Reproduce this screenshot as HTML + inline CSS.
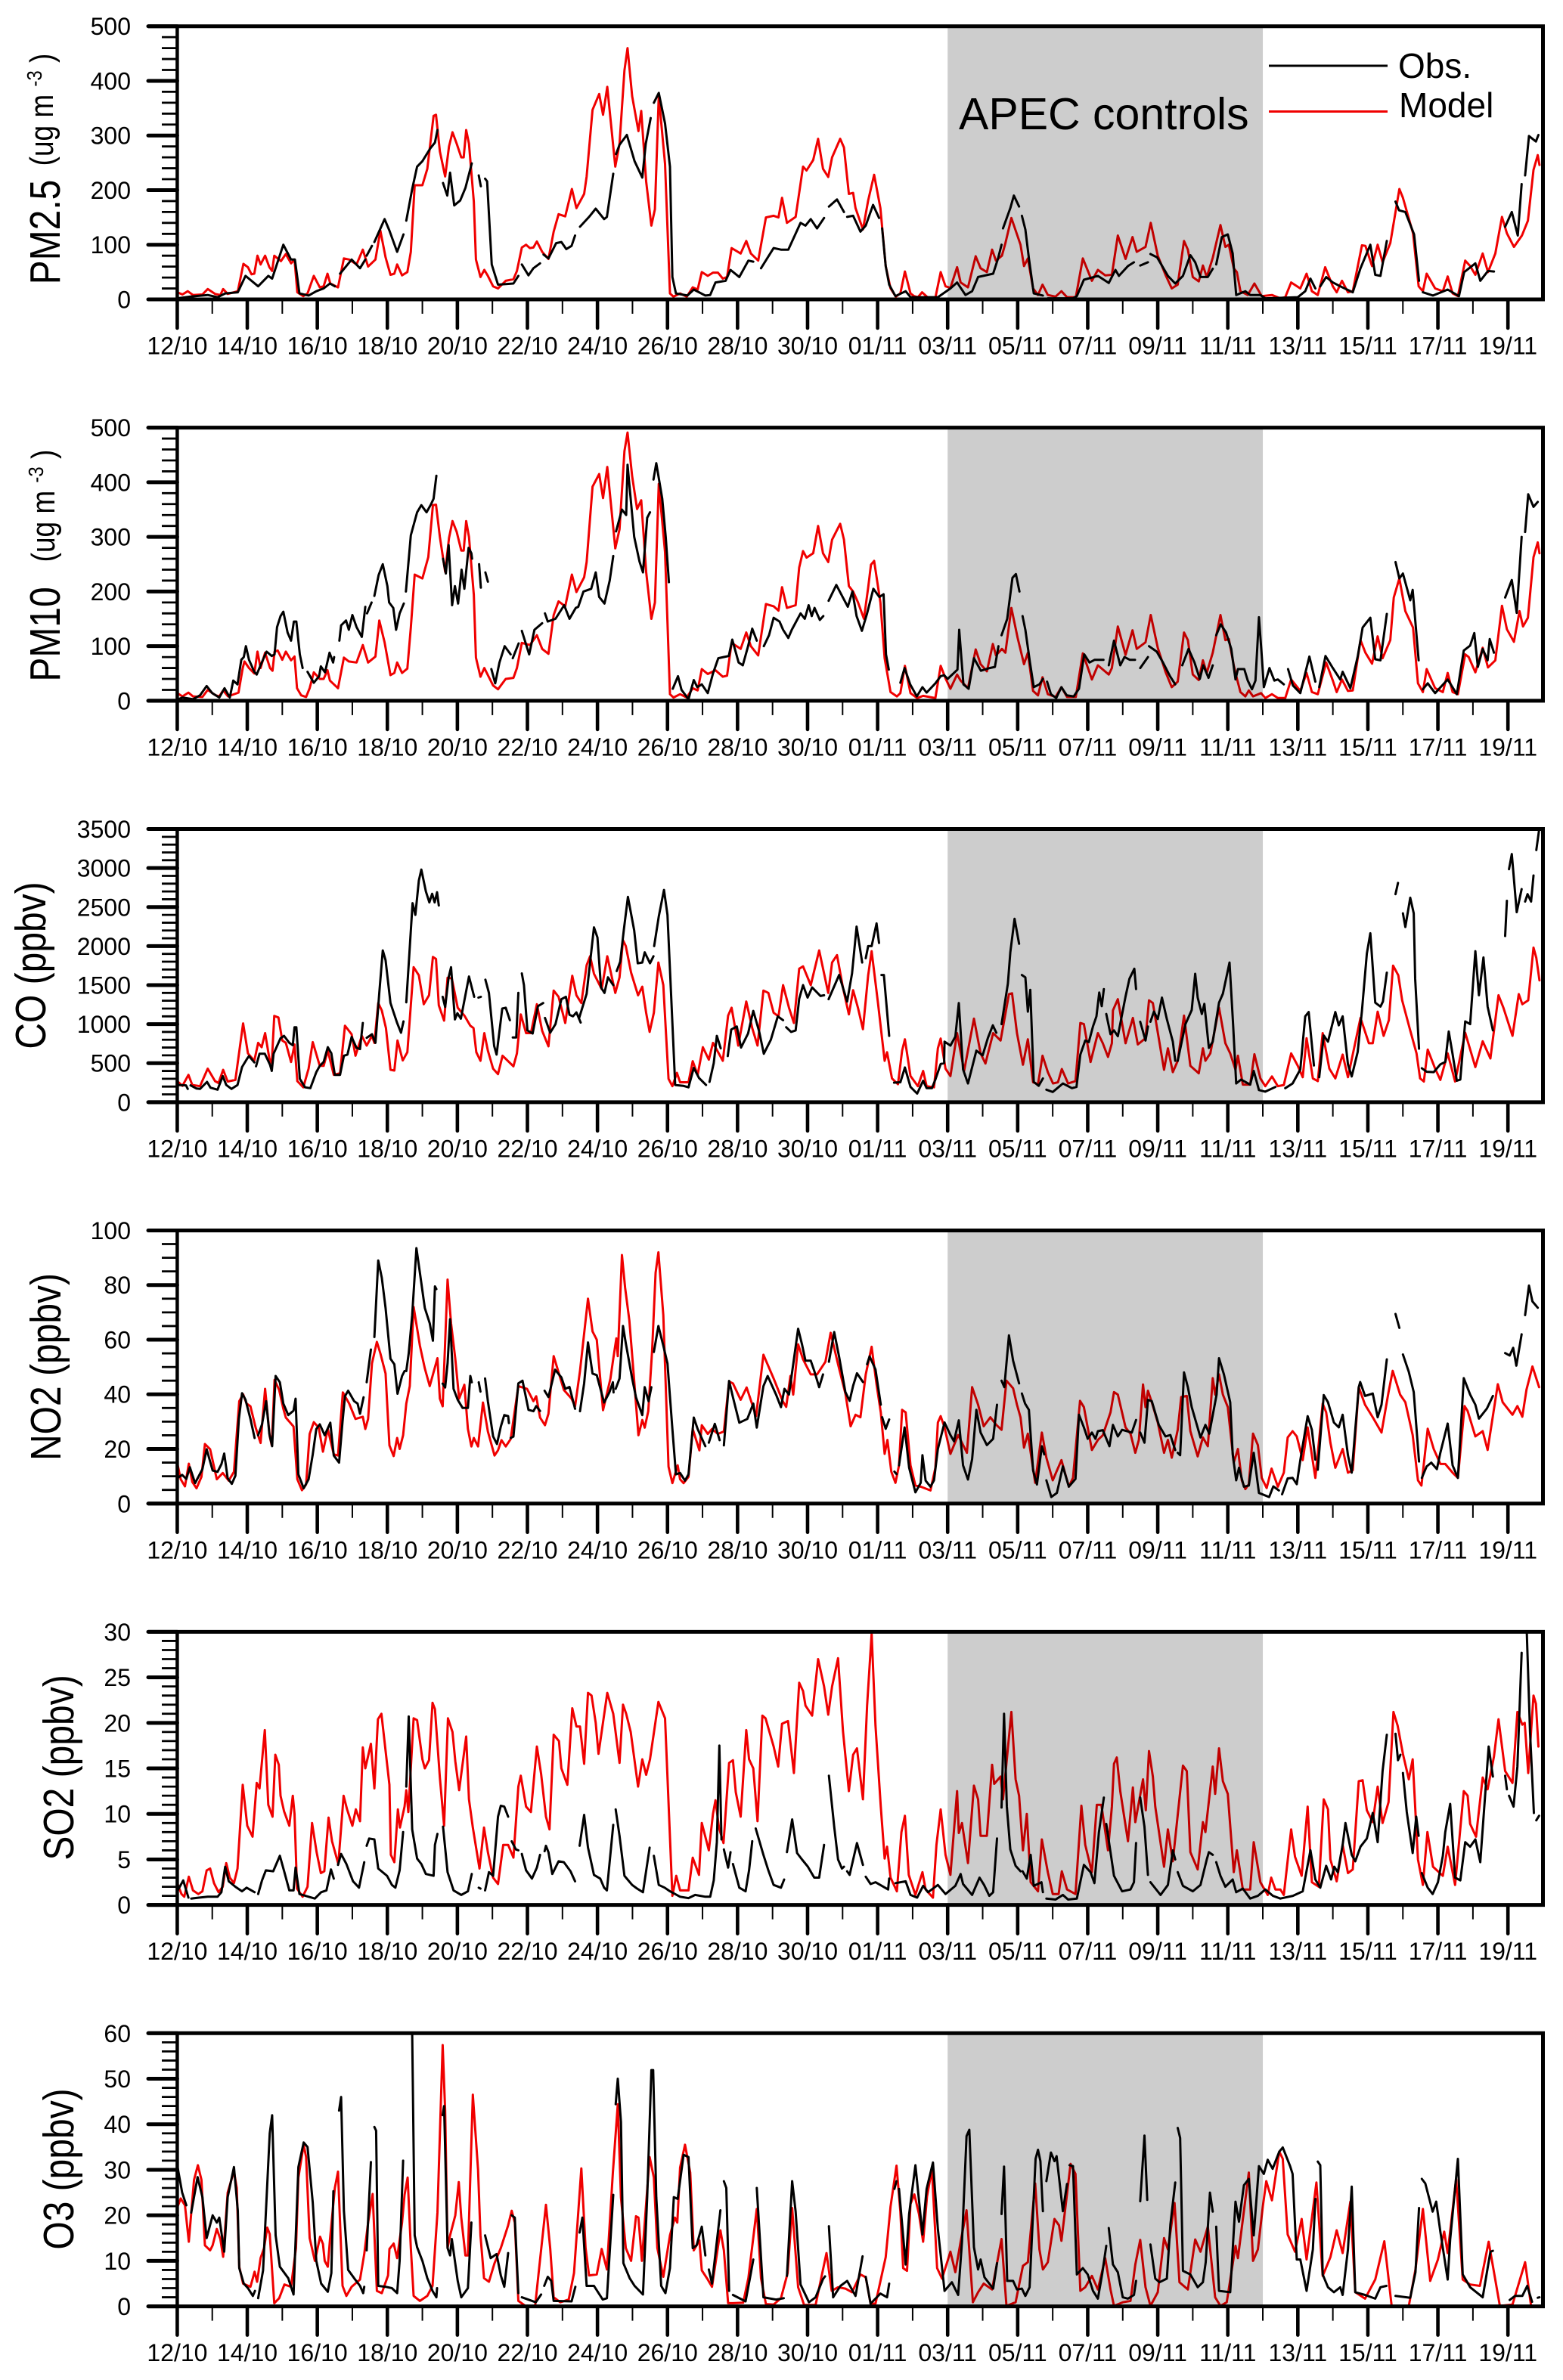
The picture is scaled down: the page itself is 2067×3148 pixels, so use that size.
<!DOCTYPE html>
<html lang="en">
<head>
<meta charset="utf-8">
<title>Air pollutant time series: observed vs modelled</title>
<style>
html,body{margin:0;padding:0;background:#fff;}
svg{display:block;}
text{font-family:"Liberation Sans",sans-serif;fill:#000;}
</style>
</head>
<body>
<svg id="chart" xmlns="http://www.w3.org/2000/svg" width="2067" height="3148" viewBox="0 0 2067 3148"></svg>
<script>
// Tick labels (one every 2 days, starting on day 0 = 12/10)
const dateLabels = ['12/10','14/10','16/10','18/10','20/10','22/10','24/10','26/10','28/10','30/10','01/11','03/11','05/11','07/11','09/11','11/11','13/11','15/11','17/11','19/11'];
const apecStartDay = 22;
const apecEndDay = 31;
const totalDays = 39;

// Series: [day since 12/10, value]; null marks a gap in the record
const pm25Model = [[0,13],[.15,9],[.3,15],[.45,8],[.72,9],[.87,19],[1.08,10],[1.23,8],[1.31,19],[1.44,10],[1.73,15],[1.89,65],[2.02,59],[2.12,46],[2.2,47],[2.29,80],[2.38,64],[2.51,80],[2.63,59],[2.71,52],[2.77,80],[2.96,70],[3.1,83],[3.25,66],[3.35,73],[3.43,13],[3.6,6],[3.72,11],[3.9,43],[4.07,22],[4.18,24],[4.29,47],[4.37,29],[4.59,22],[4.76,75],[4.91,73],[5.12,64],[5.3,91],[5.45,60],[5.66,73],[5.8,126],[5.95,77],[6.09,45],[6.2,47],[6.28,64],[6.42,44],[6.57,50],[6.67,87],[6.78,209],[7,209],[7.14,239],[7.32,336],[7.39,338],[7.5,271],[7.65,225],[7.76,280],[7.86,306],[7.98,285],[8.11,260],[8.18,260],[8.25,310],[8.33,285],[8.47,179],[8.53,73],[8.66,41],[8.77,54],[8.87,43],[9.02,24],[9.16,20],[9.38,34],[9.6,37],[9.7,52],[9.84,95],[9.96,100],[10.07,94],[10.17,95],[10.27,106],[10.42,87],[10.6,74],[10.75,124],[10.89,156],[11.08,152],[11.27,202],[11.4,167],[11.62,193],[11.69,225],[11.86,347],[12.05,376],[12.16,338],[12.28,389],[12.51,243],[12.63,285],[12.77,419],[12.86,460],[12.99,372],[13.17,308],[13.25,345],[13.39,216],[13.54,135],[13.64,165],[13.75,372],[13.93,248],[14.07,11],[14.17,5],[14.36,11],[14.55,5],[14.72,22],[14.86,18],[14.98,50],[15.15,43],[15.3,49],[15.44,49],[15.58,38],[15.7,41],[15.83,94],[16.09,84],[16.25,107],[16.38,84],[16.59,71],[16.81,150],[17.03,153],[17.17,150],[17.27,186],[17.41,140],[17.66,151],[17.87,243],[17.97,236],[18.16,255],[18.3,294],[18.44,239],[18.59,224],[18.7,260],[18.93,294],[19.04,278],[19.18,193],[19.3,195],[19.37,167],[19.58,128],[19.73,181],[19.9,228],[20.08,167],[20.23,61],[20.37,20],[20.52,5],[20.65,11],[20.78,51],[20.94,11],[21.04,6],[21.15,4],[21.27,13],[21.44,3],[21.65,3],[21.8,50],[21.94,24],[22.08,21],[22.27,59],[22.37,31],[22.58,22],[22.8,79],[22.94,57],[23.12,50],[23.27,91],[23.38,71],[23.55,80],[23.65,103],[23.82,149],[24.08,100],[24.18,61],[24.29,75],[24.44,20],[24.58,8],[24.71,27],[24.86,8],[25.08,5],[25.25,15],[25.41,4],[25.66,4],[25.86,75],[26.12,34],[26.29,54],[26.5,44],[26.69,45],[26.86,117],[27.08,74],[27.28,114],[27.4,87],[27.65,96],[27.8,140],[28,80],[28.22,45],[28.4,20],[28.57,27],[28.75,107],[28.86,91],[29,41],[29.17,33],[29.29,62],[29.4,41],[29.57,76],[29.79,136],[29.93,96],[30.03,100],[30.17,57],[30.26,50],[30.36,15],[30.57,8],[30.76,29],[30.97,6],[31.26,8],[31.5,2],[31.64,4],[31.81,31],[32.07,20],[32.25,47],[32.4,15],[32.57,8],[32.78,59],[33,24],[33.11,13],[33.26,34],[33.43,13],[33.57,15],[33.83,99],[33.93,98],[34.12,61],[34.28,100],[34.42,68],[34.64,103],[34.9,202],[35,186],[35.29,121],[35.45,24],[35.57,15],[35.68,47],[35.92,20],[36.14,15],[36.28,42],[36.42,11],[36.57,6],[36.78,71],[36.92,61],[37.07,45],[37.28,84],[37.43,50],[37.64,84],[37.83,151],[37.97,121],[38.17,96],[38.4,117],[38.57,144],[38.73,237],[38.85,264],[38.9,246]];
const pm25Obs = [[0,2],[.36,5],[.87,8],[1.15,4],[1.37,11],[1.73,13],[1.95,43],[2.31,24],[2.6,43],[2.71,38],[3.03,100],[3.25,73],[3.36,73],[3.49,11],[3.75,7],[3.97,15],[4.18,20],[4.36,29],[4.5,24],null,[4.65,47],[4.98,73],[5.22,57],[5.37,73],null,[5.41,80],[5.56,98],null,[5.63,105],[5.92,147],[6.06,126],[6.28,87],[6.46,119],null,[6.54,144],[6.71,202],[6.85,243],[7,253],[7.22,276],[7.36,287],[7.43,310],null,[7.59,213],[7.71,190],[7.79,232],[7.91,172],[8.08,181],[8.23,204],[8.41,249],null,[8.61,227],[8.67,207],null,[8.79,221],[8.85,216],[8.98,64],[9.16,27],[9.6,29],[9.74,43],null,[9.84,64],[10.03,44],[10.17,57],[10.36,66],null,[10.46,82],[10.6,75],[10.82,103],[10.97,105],[11.11,92],[11.26,98],[11.36,117],null,[11.5,133],[11.76,151],[11.95,166],[12.19,147],[12.27,151],[12.45,230],null,[12.53,266],[12.63,283],[12.84,301],[13.06,253],[13.28,223],[13.38,285],[13.52,332],null,[13.61,360],[13.75,378],[13.93,322],[14.07,243],[14.14,41],[14.24,11],[14.57,7],[14.75,18],[15.08,7],[15.22,8],[15.37,31],[15.66,34],[15.8,54],[16.05,41],[16.31,71],[16.45,69],null,[16.67,57],[17.03,94],[17.24,91],[17.45,91],[17.8,140],[17.94,135],[18.09,147],[18.27,130],[18.47,149],null,[18.61,170],[18.84,183],[19.04,160],null,[19.13,151],[19.3,153],[19.51,124],[19.66,135],[19.87,173],[20.04,149],null,[20.13,130],[20.23,61],[20.33,27],[20.51,6],[20.8,15],[20.94,4],[21.72,4],[22.08,20],[22.27,31],[22.51,8],[22.7,15],[22.87,41],[23.3,47],[23.44,75],[23.54,100],null,[23.58,130],[23.79,167],[23.89,190],[24.04,170],null,[24.12,153],[24.22,128],[24.32,75],[24.46,11],[24.72,7],null,[24.86,2],[25.58,2],[25.69,6],[25.89,36],[26.29,43],[26.6,30],[26.79,54],[26.89,43],[27.15,61],[27.32,68],null,[27.5,62],[27.72,68],null,[27.79,83],[27.98,77],[28.29,43],[28.5,29],[28.72,43],[28.93,81],[29.07,68],[29.22,41],[29.43,41],[29.57,56],null,[29.67,64],[29.83,114],[30,119],[30.14,84],[30.24,8],[30.5,15],[30.64,8],[30.93,8],[31.07,2],[32,4],[32.21,15],[32.36,38],[32.5,20],null,[32.64,24],[32.81,41],[33,31],[33.21,24],[33.57,13],[33.79,57],[34.07,100],[34.21,45],[34.36,43],[34.54,107],null,[34.79,179],[34.89,163],[35.07,160],[35.32,119],[35.46,34],null,[35.57,13],[35.86,7],[36.28,18],[36.6,6],[36.75,50],[37.07,66],[37.21,34],[37.43,52],[37.6,51],null,[37.92,133],[38.11,160],[38.28,117],[38.39,211],null,[38.49,227],[38.6,299],[38.7,294],[38.8,289],[38.87,301]];
const pm10Model = [[0,14],[.15,8],[.32,15],[.45,8],[.72,7],[.87,20],[1.1,10],[1.2,8],[1.31,19],[1.45,8],[1.75,15],[1.87,60],[1.92,72],[2.05,60],[2.2,50],[2.29,90],[2.38,60],[2.51,88],[2.65,60],[2.72,55],[2.78,90],[2.87,92],[3,75],[3.1,90],[3.25,74],[3.35,81],[3.42,23],[3.54,10],[3.68,7],[3.78,23],[3.9,52],[4.07,40],[4.18,40],[4.29,56],[4.36,37],[4.59,23],[4.76,79],[4.9,72],[5.12,70],[5.3,102],[5.45,70],[5.66,81],[5.77,147],[5.92,107],[6.09,47],[6.2,51],[6.28,70],[6.42,51],[6.57,59],[6.67,134],[6.78,231],[7,224],[7.17,263],[7.3,358],[7.39,359],[7.5,300],[7.65,236],[7.76,298],[7.86,329],[7.98,309],[8.11,275],[8.18,275],[8.25,329],[8.33,300],[8.47,194],[8.53,79],[8.66,44],[8.77,60],[8.87,47],[9.02,28],[9.16,21],[9.38,40],[9.6,42],[9.7,60],[9.84,106],[10.07,102],[10.27,120],[10.42,95],[10.6,86],[10.75,157],[10.89,182],[11.08,173],[11.27,231],[11.4,199],[11.62,226],[11.69,254],[11.86,392],[12.05,415],[12.16,371],[12.28,428],[12.51,279],[12.63,314],[12.77,457],[12.86,491],[12.99,411],[13.13,351],[13.25,367],[13.39,236],[13.54,150],[13.64,180],[13.75,397],[13.93,272],[14.07,12],[14.17,6],[14.36,12],[14.55,6],[14.72,23],[14.86,19],[14.98,58],[15.15,49],[15.37,56],[15.58,44],[15.7,46],[15.83,106],[16.09,95],[16.25,125],[16.38,100],[16.59,83],[16.81,177],[17.03,173],[17.17,165],[17.27,208],[17.41,170],[17.66,175],[17.76,244],[17.87,274],[17.97,262],[18.16,270],[18.3,320],[18.44,270],[18.59,254],[18.7,295],[18.93,324],[19.04,295],[19.18,210],[19.3,200],[19.44,180],[19.61,150],[19.73,207],[19.81,249],[19.9,256],[20.08,180],[20.2,78],[20.37,16],[20.55,8],[20.65,14],[20.78,64],[20.94,14],[21.13,5],[21.3,9],[21.65,5],[21.8,64],[21.94,41],[22.08,22],[22.27,48],[22.37,37],[22.58,23],[22.8,94],[22.94,67],[23.12,54],[23.29,104],[23.38,83],[23.55,95],[23.65,88],[23.82,170],[24,115],[24.18,67],[24.29,88],[24.44,18],[24.58,10],[24.71,43],[24.86,12],[25.08,7],[25.25,25],[25.41,7],[25.66,7],[25.86,87],[26.12,39],[26.29,65],[26.6,48],[26.69,60],[26.86,136],[27.08,84],[27.28,129],[27.4,95],[27.65,107],[27.8,157],[28,97],[28.22,53],[28.4,25],[28.57,35],[28.75,125],[28.86,111],[29,48],[29.17,38],[29.29,74],[29.4,51],[29.57,88],[29.79,157],[29.93,111],[30.03,113],[30.17,65],[30.26,41],[30.36,16],[30.5,8],[30.6,19],[30.72,8],[30.95,14],[31.07,5],[31.26,12],[31.43,5],[31.64,5],[31.81,39],[32.07,18],[32.25,51],[32.4,16],[32.57,12],[32.81,70],[33,37],[33.11,16],[33.26,39],[33.43,18],[33.57,19],[33.79,111],[33.93,88],[34.12,68],[34.28,118],[34.42,78],[34.64,111],[34.74,189],[34.9,224],[35.07,164],[35.29,134],[35.43,32],[35.57,16],[35.68,58],[35.92,23],[36.14,16],[36.28,51],[36.42,16],[36.57,12],[36.78,85],[36.88,80],[37.07,52],[37.28,97],[37.43,61],[37.64,74],[37.83,174],[37.97,131],[38.17,108],[38.33,164],[38.43,136],[38.57,152],[38.73,263],[38.85,290],[38.9,270]];
const pm10Obs = [[0,2],[.15,6],[.45,3],[.65,10],[.84,27],[1,14],[1.2,6],[1.35,23],[1.5,6],[1.6,37],[1.72,30],[1.83,75],[1.9,80],[1.96,100],[2.05,75],[2.2,53],[2.27,48],[2.4,68],[2.55,90],[2.7,82],[2.78,85],[2.85,135],[2.95,155],[3.03,163],[3.15,125],[3.25,110],[3.33,145],[3.4,145],[3.5,85],[3.58,60],null,[3.72,53],[3.9,33],[4.05,45],[4.1,63],[4.22,52],[4.35,88],[4.45,70],[4.48,80],null,[4.63,110],[4.68,138],[4.82,147],[4.9,130],[5,157],[5.12,135],[5.27,117],[5.37,172],null,[5.42,160],[5.55,180],null,[5.63,192],[5.75,230],[5.87,250],[6,210],[6.05,180],[6.17,170],[6.25,130],[6.35,160],[6.47,178],null,[6.53,200],[6.67,303],[6.85,345],[6.97,358],[7.12,345],[7.25,360],[7.32,370],[7.4,412],null,[7.59,260],[7.67,233],[7.75,285],[7.85,175],[7.93,210],[8.02,178],[8.12,240],[8.2,205],[8.32,280],[8.4,270],[8.42,260],null,[8.62,250],[8.67,207],null,[8.8,235],[8.87,218],null,[8.97,58],[9.08,32],[9.2,70],[9.35,100],[9.52,85],null,[9.58,78],[9.75,105],null,[9.84,128],[10.05,85],[10.2,130],[10.42,142],null,[10.5,160],[10.58,145],[10.8,150],[11.05,175],[11.2,150],[11.38,170],[11.45,172],[11.6,200],[11.82,205],[11.95,235],[12.05,190],[12.2,178],[12.35,220],[12.45,265],null,[12.53,310],[12.7,350],[12.82,340],[12.86,432],[13.05,300],[13.2,255],[13.3,235],[13.42,335],[13.5,345],null,[13.6,405],[13.68,435],[13.85,370],[13.95,300],[14.04,217],null,[14.15,22],[14.3,45],[14.4,20],[14.6,3],[14.75,38],[14.85,25],[14.98,30],[15.15,14],[15.3,50],[15.45,78],[15.6,80],[15.75,82],[15.85,112],[16.03,70],[16.15,65],[16.3,100],[16.42,132],[16.55,110],null,[16.75,100],[16.9,120],[17.03,152],[17.2,145],[17.3,130],[17.45,115],[17.55,130],[17.8,160],[17.92,150],[18.03,175],[18.12,155],[18.2,170],[18.35,148],[18.45,155],null,[18.6,183],[18.82,212],[19,190],[19.15,172],[19.28,200],[19.4,155],[19.55,128],[19.7,160],[19.88,205],[20.05,190],[20.17,195],[20.24,85],[20.32,57],null,[20.55,22],null,[20.65,33],[20.77,60],[20.93,30],[21.12,8],[21.28,25],[21.4,15],[21.65,32],[21.8,45],[21.9,47],[22,40],[22.28,57],[22.33,130],[22.45,30],[22.6,22],[22.75,78],[22.95,55],[23.2,60],[23.35,62],[23.45,100],null,[23.54,120],[23.7,150],[23.85,225],[23.95,232],[24.05,200],null,[24.14,155],[24.22,130],[24.35,70],[24.46,25],[24.62,30],[24.72,40],null,[24.84,35],[24.95,12],[25.1,5],[25.25,25],[25.4,10],[25.6,8],[25.75,22],[25.9,85],[26.05,70],[26.2,75],[26.45,75],null,[26.6,65],[26.75,110],[26.93,65],[27.05,80],[27.2,75],[27.35,75],null,[27.5,60],[27.72,80],null,[27.75,100],[27.97,90],[28.15,70],[28.35,45],[28.5,30],null,[28.7,65],[28.88,95],[29.05,70],[29.2,40],[29.3,65],[29.45,42],[29.57,65],null,[29.67,120],[29.8,140],[29.95,125],[30.1,95],[30.22,39],[30.29,58],[30.47,58],[30.57,37],[30.69,21],[30.79,37],[30.89,153],[30.97,83],[31.03,25],[31.19,60],[31.33,37],[31.43,39],[31.6,30],null,[31.72,58],[31.86,28],[32.07,14],[32.33,81],[32.5,35],null,[32.61,25],[32.79,82],[33,60],[33.21,39],[33.28,53],[33.5,23],[33.71,81],[33.85,134],[34.07,152],[34.21,76],[34.36,74],[34.54,159],null,[34.79,254],[34.9,224],[35,233],[35.21,184],[35.28,203],[35.45,74],null,[35.57,21],[35.71,32],[35.92,14],[36.28,39],[36.54,12],[36.74,92],[36.92,101],[37.04,124],[37.14,62],[37.28,95],[37.42,74],[37.48,113],[37.6,88],null,[37.92,189],[38.11,221],[38.25,161],[38.39,300],null,[38.49,309],[38.58,378],[38.73,355],[38.85,364]];
const coModel = [[0,270],[.15,210],[.32,350],[.43,220],[.65,205],[.87,430],[1.08,270],[1.18,245],[1.31,415],[1.44,265],[1.66,285],[1.88,1010],[2.02,625],[2.2,530],[2.31,760],[2.41,705],[2.51,885],[2.63,560],[2.7,500],[2.77,1105],[2.89,1085],[3,790],[3.1,760],[3.25,515],[3.35,740],[3.43,270],[3.6,190],[3.75,430],[3.87,770],[4.07,465],[4.18,465],[4.3,660],[4.47,350],[4.65,370],[4.79,980],[4.98,870],[5.09,595],[5.27,850],[5.41,725],[5.56,850],[5.63,760],[5.74,1270],[5.84,1175],[5.96,950],[6.09,415],[6.2,405],[6.29,790],[6.44,535],[6.57,640],[6.75,1730],[6.9,1625],[7.04,1255],[7.19,1370],[7.3,1860],[7.39,1835],[7.47,1240],[7.62,1045],[7.72,1595],[7.84,1585],[8.01,1210],[8.2,1110],[8.37,980],[8.46,950],[8.54,640],[8.66,530],[8.77,885],[8.87,660],[9.02,430],[9.16,360],[9.29,595],[9.6,460],[9.7,625],[9.81,1125],[9.96,885],[10.1,885],[10.27,1255],[10.42,915],[10.6,715],[10.75,1430],[10.89,1350],[11.08,1015],[11.28,1620],[11.4,1370],[11.54,1270],[11.69,1755],[11.79,1870],[11.9,1645],[12.12,1450],[12.28,1870],[12.51,1400],[12.63,1600],[12.73,2075],[12.81,2000],[12.96,1660],[13.16,1370],[13.28,1480],[13.39,1145],[13.49,900],[13.61,1145],[13.74,1790],[13.88,1500],[14.03,300],[14.14,205],[14.27,375],[14.36,255],[14.6,255],[14.72,525],[14.86,350],[15.01,705],[15.18,545],[15.3,760],[15.58,530],[15.73,1110],[15.83,1210],[16.02,725],[16.25,1290],[16.42,950],[16.57,725],[16.74,1430],[16.88,1400],[17.03,1145],[17.17,1100],[17.3,1500],[17.47,1210],[17.61,1015],[17.76,1710],[17.87,1740],[18.09,1500],[18.33,1945],[18.59,1400],[18.7,1790],[18.84,1885],[19.01,1465],[19.18,1125],[19.3,1435],[19.44,1205],[19.58,935],[19.73,1625],[19.83,1935],[20.01,1270],[20.2,530],[20.27,640],[20.41,305],[20.58,230],[20.7,660],[20.78,805],[20.94,335],[21.15,205],[21.3,400],[21.4,205],[21.61,190],[21.72,690],[21.8,815],[21.94,430],[22.08,335],[22.27,885],[22.47,400],[22.75,1070],[22.94,625],[23.08,495],[23.3,885],[23.51,790],[23.75,1385],[23.84,1395],[23.98,885],[24.15,480],[24.29,805],[24.44,255],[24.58,230],[24.71,595],[24.86,385],[25.01,240],[25.15,255],[25.26,425],[25.44,240],[25.65,270],[25.79,1015],[25.89,1000],[26.08,515],[26.29,885],[26.43,755],[26.58,580],[26.69,755],[26.72,1175],[26.86,1320],[27.08,755],[27.29,1080],[27.43,740],[27.65,820],[27.75,1305],[27.86,1270],[28.18,415],[28.29,690],[28.43,385],[28.57,530],[28.75,1110],[28.93,465],[29.17,370],[29.29,690],[29.36,530],[29.5,625],[29.75,1210],[29.93,755],[30.07,625],[30.22,415],[30.29,595],[30.43,225],[30.64,225],[30.76,615],[30.93,305],[31.07,205],[31.26,330],[31.43,205],[31.6,220],[31.81,625],[32,465],[32.14,320],[32.25,820],[32.43,305],[32.57,270],[32.71,885],[32.9,430],[33.07,305],[33.28,610],[33.43,320],[33.79,1080],[34.03,755],[34.14,755],[34.28,1160],[34.45,850],[34.6,1050],[34.72,1750],[34.87,1625],[34.98,1305],[35.2,935],[35.39,625],[35.49,305],[35.6,265],[35.71,675],[35.92,430],[36.07,285],[36.28,625],[36.49,265],[36.78,890],[37.07,450],[37.28,780],[37.5,560],[37.73,1370],[37.87,1210],[38.13,850],[38.31,1385],[38.41,1255],[38.58,1305],[38.73,1980],[38.81,1850],[38.9,1560]];
const coObs = [[0,220],[.25,215],[.3,170],null,[.38,215],[.55,175],[.65,170],[.85,260],[.95,185],[1.15,160],[1.3,335],[1.4,220],[1.55,170],[1.72,220],[1.85,450],[2,560],[2.05,590],[2.2,510],null,[2.25,460],[2.35,620],[2.5,620],[2.65,480],[2.7,400],[2.75,620],[2.85,720],[2.95,820],[3.05,850],[3.2,760],[3.3,730],[3.35,960],[3.4,960],[3.5,300],[3.65,190],[3.8,180],[3.97,385],[4.07,465],[4.18,515],[4.3,705],[4.4,625],[4.5,350],[4.65,350],[4.76,595],[4.86,610],[4.98,835],[5.12,695],[5.22,680],[5.3,1015],null,[5.41,825],[5.56,870],[5.66,760],[5.77,1400],[5.87,1945],[5.95,1820],[6.09,1270],[6.28,1015],[6.39,890],[6.46,1035],null,[6.54,1280],[6.72,2550],[6.8,2400],[6.9,2840],[6.97,2980],[7.1,2700],[7.2,2560],[7.28,2670],[7.35,2560],[7.42,2690],[7.47,2520],null,[7.58,1350],[7.65,1220],[7.75,1600],[7.82,1730],[7.93,1060],[8,1140],[8.1,1070],[8.33,1610],[8.48,1350],null,[8.6,1340],[8.67,1350],null,[8.8,1570],[8.9,1400],[9.05,720],[9.12,610],[9.28,1200],[9.38,1210],[9.5,1050],null,[9.58,830],[9.68,830],[9.74,1400],null,[9.84,1650],[9.9,1500],[10,920],[10.15,880],[10.3,1230],[10.45,1270],null,[10.5,1080],[10.65,890],[10.8,1000],[10.97,1320],[11.1,1350],[11.2,1120],[11.3,1100],[11.4,1150],[11.52,1020],null,[11.47,1070],[11.69,1390],[11.9,2240],[12,2110],[12.1,1470],[12.2,1400],[12.3,1600],[12.45,1500],null,[12.55,1680],[12.65,1800],[12.75,2200],[12.87,2630],[13.05,2200],[13.15,1780],[13.28,1790],[13.35,1920],[13.5,1780],[13.6,1870],null,[13.62,2000],[13.75,2380],[13.9,2720],[14,2400],[14.1,1400],[14.22,220],[14.45,210],[14.6,190],[14.75,440],[14.9,310],[15.1,220],null,[15.2,260],[15.32,500],[15.41,850],[15.52,690],null,[15.72,590],[15.82,930],[15.98,970],[16.1,700],[16.3,880],[16.45,1170],[16.62,900],[16.75,620],[16.95,800],[17.15,1100],[17.3,1050],null,[17.39,960],[17.53,900],[17.66,920],[17.76,1325],[17.87,1500],[18,1340],[18.13,1470],[18.37,1360],[18.47,1370],null,[18.6,1320],[18.9,1630],[19.13,1290],[19.27,1650],[19.4,2250],[19.56,1790],null,[19.66,1845],[19.73,2000],[19.83,2000],[19.97,2290],[20.04,2040],null,[20.11,1630],[20.18,1630],[20.33,850],null,[20.47,250],[20.65,255],[20.78,445],[20.94,195],[21.13,110],[21.3,275],[21.4,180],[21.55,180],[21.65,290],[21.8,490],[21.9,500],[21.91,775],[22.08,725],[22.22,840],[22.32,1270],[22.44,420],[22.58,240],[22.72,485],[22.82,660],[23,600],[23.15,825],[23.29,985],[23.39,890],null,[23.54,1000],[23.72,1520],[23.79,1920],[23.91,2350],[24.04,2030],null,[24.12,1630],[24.22,1600],[24.29,1160],[24.36,1440],[24.46,260],[24.6,210],[24.72,305],null,[24.82,160],[25,130],[25.29,240],[25.55,180],[25.68,195],[25.79,610],[25.93,790],[26.03,770],[26.15,970],[26.25,1100],[26.33,1405],[26.4,1230],[26.46,1450],null,[26.53,1130],[26.65,870],[26.75,920],[26.86,845],[27.08,1355],[27.19,1580],[27.33,1710],[27.38,1450],null,[27.5,1030],[27.65,790],[27.72,970],null,[27.79,1030],[27.89,1160],[28,1065],[28.12,1340],[28.26,1065],[28.43,775],[28.5,530],null,[28.57,530],[28.79,1000],[28.97,1180],[29.07,1645],[29.14,1340],[29.26,1130],[29.33,1260],[29.46,695],[29.57,775],[29.75,1275],[29.86,1390],[30.05,1790],[30.15,1000],[30.24,240],[30.38,290],[30.64,225],[30.74,400],[30.89,155],[31.07,135],[31.36,195],null,[31.64,180],[31.85,240],[32.07,420],[32.21,1100],[32.31,1155],[32.46,470],null,[32.61,320],[32.74,855],[32.86,775],[33.07,1155],[33.17,985],[33.28,1100],[33.43,485],[33.54,330],[33.71,645],[33.83,1170],[33.97,1905],[34.07,2165],[34.21,1275],[34.36,1225],[34.43,1290],[34.54,1660],null,[34.79,2665],[34.86,2810],null,[35,2420],[35.07,2245],[35.21,2620],[35.31,2420],[35.35,1580],[35.46,685],null,[35.54,435],[35.68,390],[35.88,385],[36.07,485],[36.21,515],[36.31,905],[36.42,615],[36.54,275],[36.64,290],[36.78,1035],[36.92,1000],[37.07,1935],[37.17,1370],[37.3,1855],[37.42,1225],[37.57,920],null,[37.92,2130],[37.97,2580],null,[38.03,2985],[38.11,3180],[38.25,2435],[38.39,2730],null,[38.49,2570],[38.56,2665],[38.66,2570],[38.73,2905],null,[38.81,3230],[38.89,3490]];
const no2Model = [[0,14.9],[.1,8.9],[.22,6.3],[.33,14.6],[.43,7.9],[.55,5.6],[.69,9.8],[.79,21.8],[.94,19.9],[1.13,8.9],[1.3,11.2],[1.47,8.4],[1.62,11.6],[1.77,37.5],[1.88,40],[1.98,36.6],[2.09,35.6],[2.24,27.8],[2.38,22.2],[2.51,42],[2.64,24.6],[2.7,21.3],[2.78,45.3],[2.91,41.6],[3.03,34.7],[3.1,31.5],[3.32,28.2],[3.43,8.9],[3.56,4.9],[3.68,7],[3.78,25.5],[3.9,29.8],[4.04,27.8],[4.16,19],[4.3,27.3],[4.47,18],[4.59,17.6],[4.73,40.7],[4.91,36.6],[5.09,31],[5.3,31.8],[5.37,27.3],[5.45,31],[5.56,51.3],[5.7,59.2],[5.8,55],[5.95,47.6],[6.06,21.3],[6.18,17.4],[6.28,24],[6.35,20],[6.45,25],[6.54,36.6],[6.64,43],[6.75,72],[6.93,57.8],[7.07,49.5],[7.21,43],[7.43,53.2],[7.5,38.4],[7.58,35.6],[7.72,82],[7.82,66],[7.94,53],[8.05,38.4],[8.2,43.5],[8.3,27.3],[8.4,20.9],[8.47,24],[8.59,20.9],[8.73,37],[8.87,26.4],[9.06,17.6],[9.16,19.5],[9.26,23.2],[9.38,20.9],[9.52,23.6],[9.74,43],[9.99,42],[10.17,37.5],[10.25,39.3],[10.36,31.5],[10.5,28.7],[10.6,32.9],[10.75,54],[11.04,41.6],[11.26,38.4],[11.36,35.6],[11.5,48.5],[11.73,75],[11.86,63],[11.98,60],[12.16,34.2],[12.37,45.8],[12.45,53],[12.54,60.5],[12.58,54],[12.7,91],[12.79,79],[12.91,67],[13.02,49.5],[13.17,25],[13.28,30.6],[13.35,27.8],[13.45,33.8],[13.56,56],[13.66,84.5],[13.74,92],[13.88,69],[14.03,13.5],[14.14,7.5],[14.29,14],[14.36,8.9],[14.46,7.5],[14.6,9.8],[14.72,27.3],[14.91,19.5],[14.98,28.7],[15.15,25.5],[15.27,27.3],[15.44,25.5],[15.61,26.4],[15.76,44.7],[15.87,44],[16.09,38],[16.26,42.5],[16.53,32],[16.74,54.5],[17.03,45.8],[17.29,37.5],[17.39,35.4],[17.51,46.7],[17.59,39.9],[17.73,58.3],[17.87,52.8],[18.09,47.3],[18.27,47.3],[18.51,51.9],[18.66,62.5],[18.87,51],[19.08,40.3],[19.23,28.3],[19.37,32.5],[19.51,31.6],[19.66,47.3],[19.83,57.4],[19.97,43.6],[20.09,33.4],[20.2,18.2],[20.28,23.3],[20.39,11.7],[20.51,7.6],[20.61,14],[20.7,34.3],[20.8,33.4],[20.94,14],[21.08,6.6],[21.23,6.2],[21.51,4.8],[21.65,13.1],[21.72,29.7],[21.8,32],[21.91,27.9],[22.08,18.2],[22.3,25.1],[22.55,18.6],[22.7,42.6],[22.87,36.2],[23.03,28.3],[23.22,31.6],[23.39,28.8],[23.54,27],[23.68,45],[23.87,42.2],[23.98,36.2],[24.08,31.6],[24.18,20.5],[24.29,25.6],[24.5,7.6],[24.69,26],[24.82,16.8],[25,8.5],[25.25,15.9],[25.46,6.2],[25.58,9.4],[25.78,37.6],[25.89,35.3],[26.12,19.6],[26.29,23.3],[26.43,25],[26.65,33.4],[26.75,40.8],[26.86,39.9],[27.08,27.9],[27.22,25.6],[27.36,18.6],[27.46,23.3],[27.58,43.6],[27.65,35.3],[27.72,41.3],[27.83,37.1],[28,29.7],[28.18,18.6],[28.29,23.3],[28.4,16.8],[28.57,27],[28.67,39],[28.83,39.4],[28.93,26.5],[29.14,17.3],[29.29,24.2],[29.43,21],[29.57,45.9],[29.64,39.9],[29.75,47.3],[29.86,39.9],[30,35.3],[30.17,15],[30.29,20],[30.4,8.5],[30.5,5.3],[30.6,7.1],[30.72,25.6],[30.86,21.4],[30.97,9.4],[31.11,5.7],[31.25,12.8],[31.43,6.2],[31.6,11.3],[31.71,24.2],[31.85,26.5],[31.97,24.6],[32.14,15.9],[32.28,27.9],[32.5,9.4],[32.71,36.6],[32.81,33.4],[32.93,22.3],[33.07,13.1],[33.28,20],[33.43,11.3],[33.57,12.2],[33.74,42.6],[33.92,36.2],[34.14,31.6],[34.39,26],[34.59,40.8],[34.71,48.6],[34.92,39.9],[35.07,37.1],[35.28,25.1],[35.43,8.5],[35.53,6.6],[35.71,27.4],[35.88,20],[36.07,14.5],[36.21,14.5],[36.42,11.3],[36.57,9.4],[36.76,35.7],[36.85,33.9],[37.07,24.6],[37.28,26.5],[37.42,19.6],[37.71,43.7],[37.85,37.1],[38.13,32.5],[38.27,35.7],[38.41,31.8],[38.53,41.7],[38.7,50.2],[38.89,42.6]];
const no2Obs = [[0,9.3],[.14,10.5],[.26,9],[.36,13.3],[.51,7.5],[.72,12.6],[.84,19.9],[1.01,12.1],[1.15,11.6],[1.26,14.4],[1.34,18.3],[1.44,9.3],[1.56,7.2],[1.66,10.2],[1.76,31],[1.85,40.4],[1.95,38],[2.09,31],[2.21,24],null,[2.31,25],[2.42,29],[2.54,37.5],[2.63,25.5],[2.71,21],[2.81,46.7],[2.93,44.4],[3.03,36.6],[3.17,32.4],[3.32,34],[3.38,38.4],[3.46,10.7],[3.61,5.6],[3.75,8.9],[3.87,18],[3.97,27.3],[4.07,29],[4.21,25],[4.37,29.6],[4.47,17.6],[4.62,15],[4.72,30],[4.79,39.3],[4.88,41.3],[5.05,37.5],[5.15,36.6],[5.22,32.9],[5.32,38.9],null,[5.41,44.4],[5.53,56.4],null,[5.63,61],[5.74,89],[5.84,82.7],[5.95,71.6],[6.09,53],[6.2,51],[6.29,40.2],[6.42,46.7],[6.49,48.5],null,[6.54,48.5],[6.61,55],[6.71,69],[6.83,93.5],[6.93,84.5],[7.07,71.6],[7.21,66],[7.3,59.6],[7.36,79.5],[7.4,78.5],null,[7.58,43.9],[7.65,42.5],[7.72,51.3],[7.79,67.5],[7.89,42],[8.01,38],[8.15,35],[8.3,35],[8.37,46.7],[8.41,44.4],null,[8.61,44.4],[8.66,41],null,[8.79,45.8],[8.87,37.5],[9.02,24.6],[9.13,21.8],[9.24,28.2],[9.34,32.4],[9.45,32],[9.47,29.5],null,[9.52,24],[9.6,24.5],[9.74,44],[9.86,45],[10.03,34.3],[10.17,33.8],[10.25,35.7],[10.36,33.9],null,[10.49,41.3],[10.6,39],[10.79,49],[10.97,46.2],[11.08,42],[11.2,42.7],[11.36,34.7],null,[11.5,33.8],[11.62,44],[11.73,59],[11.86,47.6],[11.98,47],[12.19,37],[12.34,40.7],[12.44,44.4],[12.46,40.7],null,[12.52,42],[12.63,45.8],[12.73,65],[12.81,58.7],[12.99,45.8],[13.1,38.9],[13.28,32.4],[13.35,42.6],[13.46,37.5],[13.54,42.6],null,[13.61,55.5],[13.74,65],[13.88,57.8],[14,51.3],[14.14,27.3],[14.24,10.7],[14.36,11.2],[14.5,8.4],[14.6,10.7],[14.75,31.5],[14.86,27.3],[15.08,21],null,[15.18,22.3],[15.35,29.2],[15.49,23.2],null,[15.61,21.3],[15.76,44.9],[15.87,38.9],[16.05,29.6],[16.28,31],[16.45,36.6],[16.55,27.8],[16.74,43],[16.86,46.7],[17.1,39.9],[17.24,35.3],[17.34,42],[17.47,39.9],[17.59,51],[17.73,64],[17.84,58.3],[17.94,52.3],[18.09,52.3],[18.19,48.6],[18.33,42.6],[18.44,47.3],null,[18.61,51.9],[18.76,62.8],[18.9,53.7],[19.08,40.8],[19.2,37.6],[19.3,43.1],[19.41,47.7],[19.58,44.5],null,[19.7,51],[19.77,53.9],[19.94,49.1],[20.09,36.2],null,[20.13,31.6],[20.23,27.4],[20.33,30.8],null,[20.48,11.7],[20.54,10.8],null,[20.61,14],[20.77,27.9],[20.9,13.1],[21.08,4.1],[21.23,7.6],[21.28,17.7],[21.37,8.4],[21.51,6.2],[21.61,8.5],[21.72,20],[21.91,29.7],[22.08,25.1],[22.18,22.8],[22.32,30.5],[22.44,14],[22.58,8.8],[22.7,16.3],[22.82,34.3],[22.94,26],[23.12,21.4],[23.3,23.7],[23.41,36.2],null,[23.54,45],[23.62,42.6],[23.75,61.6],[23.87,52.3],[24.04,44],null,[24.12,40.3],[24.21,36.6],[24.32,34.3],[24.44,12.2],[24.55,7],[24.69,21],[24.76,18],null,[24.82,8.5],[24.96,2.4],[25.12,3.9],[25.29,13.6],[25.46,6.2],[25.65,9],[25.75,32.5],[25.89,27.9],[26,23.7],[26.12,26],[26.22,23.7],[26.29,26.5],[26.43,26.9],[26.62,21],[26.72,28.8],[26.86,24.6],[26.98,27],[27.26,26],[27.38,30.6],null,[27.5,26],[27.62,22.3],[27.72,38],[27.83,37.5],[28.03,28.8],[28.22,24.6],[28.36,25.1],[28.5,19.6],null,[28.57,18.6],[28.64,17.7],[28.75,48],[28.86,42.6],[28.97,35.3],[29.22,24.2],[29.36,28.8],[29.47,25.6],[29.68,39.9],[29.75,53.2],[29.89,47.3],[30.07,37.1],[30.14,18],[30.24,8.5],[30.32,13.1],[30.46,6.2],[30.6,6.6],[30.74,18.6],[30.89,3.9],[31.18,2.4],[31.3,6.3],[31.46,4.8],null,[31.55,3.4],[31.71,9.2],[31.85,9.4],[31.97,7.1],[32.07,15.9],[32.28,32],[32.4,27],[32.5,16.1],null,[32.57,12.4],[32.74,39.7],[32.86,37.1],[33.03,29.7],[33.17,27.9],[33.28,32.5],[33.43,17.7],[33.54,11.3],[33.74,42.6],[33.78,44.5],[33.92,39.4],[34.14,40.3],[34.28,31.6],[34.39,36.2],[34.54,52.8],null,[34.79,69.4],[34.9,64.3],null,[35,54.6],[35.17,48.2],[35.31,40.8],[35.46,15.4],null,[35.54,9.4],[35.68,13.6],[35.81,15],[35.97,12.6],[36.07,18.6],[36.28,29.3],[36.42,14],[36.57,9.4],[36.74,45.9],[36.92,39.9],[37.07,36.2],[37.17,31.1],[37.4,34.8],[37.57,39.4],null,[37.92,55.1],[38.05,54.2],[38.15,57],[38.24,50.5],[38.39,62],null,[38.49,69],[38.6,79.8],[38.7,74],[38.85,71.7]];
const so2Model = [[0,2.4],[.12,1.2],[.2,.9],[.33,3.1],[.45,1.6],[.6,1.2],[.72,1.5],[.84,3.8],[.94,4],[1.05,2.4],[1.18,1.4],[1.3,2],[1.4,4.6],[1.5,3],[1.62,2.4],[1.72,4],[1.87,13.2],[2,8.7],[2.15,7.5],[2.27,13.4],[2.35,12.8],[2.5,19.2],[2.6,11],[2.72,9.7],[2.8,16.5],[2.9,15.4],[2.95,12],[3.05,10.3],[3.2,8.7],[3.3,12],[3.35,10],[3.42,1.8],[3.58,.9],[3.72,2],[3.85,9],[3.98,5.8],[4.1,3.5],[4.2,3.7],[4.32,9.6],[4.42,7],[4.6,4.5],[4.75,12],[4.85,10.5],[5,8.7],[5.1,10.5],[5.22,9.2],[5.3,17.3],[5.37,15],[5.53,17.7],[5.63,12.8],[5.73,20.4],[5.83,21],[6.06,13.2],[6.1,5.5],[6.2,4.7],[6.3,10.5],[6.36,8.5],[6.49,10.8],[6.54,12.6],[6.6,10.2],[6.75,20.5],[6.85,20.3],[7,16],[7.07,15],[7.19,15.9],[7.29,22.2],[7.36,21.5],[7.5,14],[7.62,8.7],[7.73,20.5],[7.86,19],[7.94,15.8],[8.05,12.6],[8.25,18.5],[8.33,11.6],[8.44,8.5],[8.63,4],[8.76,8.5],[8.87,5.8],[9.02,3],[9.16,2.3],[9.31,6.6],[9.45,6.6],[9.6,5.2],[9.74,13],[9.81,14.2],[9.96,10.8],[10.1,10.2],[10.27,17.4],[10.39,14.4],[10.53,9.7],[10.63,8.3],[10.75,18.7],[10.9,18],[10.97,15],[11.14,13.2],[11.28,21.6],[11.4,19.6],[11.5,19.6],[11.62,15.5],[11.73,23.3],[11.83,23],[11.95,20],[12.03,16.6],[12.28,23.3],[12.45,21],[12.63,15.6],[12.73,22],[12.82,21],[12.95,19],[13.16,13],[13.28,16],[13.39,14.3],[13.5,16],[13.74,22.3],[13.93,20.5],[14.14,1],[14.25,3.2],[14.36,1.6],[14.6,1.6],[14.72,5.2],[14.9,3.3],[14.98,9],[15.18,6],[15.3,10],[15.37,11.5],[15.47,8.5],[15.6,6.8],[15.76,15.6],[15.87,15.9],[15.95,12.4],[16.09,9.7],[16.25,19.2],[16.33,16],[16.45,15],[16.57,9.2],[16.71,20.8],[16.8,20.5],[17.03,17.4],[17.16,15.2],[17.27,19.9],[17.44,20.2],[17.61,14.5],[17.76,24.4],[17.87,23.5],[17.94,21.9],[18.13,20.8],[18.3,27],[18.47,24],[18.59,20.9],[18.7,24],[18.87,27.1],[19.01,19.1],[19.18,12.5],[19.3,16.5],[19.41,17.2],[19.58,11.6],[19.7,21.9],[19.83,29.8],[19.94,19.7],[20.09,10.8],[20.2,5.1],[20.27,6.4],[20.37,3],[20.55,1.5],[20.68,8],[20.78,9.8],[20.89,3.3],[21.08,1.1],[21.28,3.6],[21.37,1.7],[21.58,.8],[21.68,6.6],[21.8,10.5],[21.94,5.5],[22.08,3.3],[22.27,12.5],[22.32,7.9],[22.41,9],[22.58,4.6],[22.75,13.1],[22.87,11.6],[22.94,7.6],[23.12,7.6],[23.27,15.4],[23.33,13.3],[23.51,14.1],[23.58,11.6],[23.82,21.2],[23.94,13.8],[24.04,12],[24.15,6],[24.26,10],[24.37,2.5],[24.58,1.5],[24.69,7.2],[24.86,3.6],[25,1.2],[25.17,1.2],[25.26,3.7],[25.41,1.7],[25.65,1.2],[25.82,10.9],[25.93,6.6],[26.12,3.6],[26.26,11],[26.39,11],[26.58,6],[26.69,10.8],[26.75,15.5],[26.83,16.2],[26.93,12.5],[27.15,7],[27.29,12.9],[27.36,9.1],[27.58,13.8],[27.66,10.4],[27.75,16.9],[27.86,14.1],[27.93,10.8],[28.18,4.2],[28.29,8.3],[28.43,4.8],[28.72,15.3],[28.83,14.7],[28.93,5.8],[29.14,3.9],[29.29,9.1],[29.36,8],[29.57,15.2],[29.64,12.2],[29.75,17.2],[29.86,13.6],[30,12.2],[30.17,3.6],[30.26,6],[30.43,1.7],[30.64,1.7],[30.74,6.9],[30.93,2.5],[31.14,1.1],[31.24,3],[31.36,1.7],[31.5,1.7],[31.6,1.1],[31.81,8.3],[31.92,5.3],[32.11,3.2],[32.28,10.8],[32.4,2.5],[32.6,2],[32.74,11.6],[32.86,10.5],[32.93,5],[33.11,2.6],[33.28,6.6],[33.43,3.5],[33.57,3.9],[33.74,13.6],[33.85,13.7],[33.97,10.4],[34.14,9.1],[34.28,13],[34.42,9],[34.59,11.3],[34.73,21.2],[34.85,19.7],[35,16.6],[35.17,13.8],[35.28,16],[35.43,5],[35.57,2.2],[35.7,8],[35.86,4.2],[36.14,3.2],[36.28,6.4],[36.49,2.2],[36.74,12.5],[36.85,12],[36.92,8.9],[37.09,7.5],[37.28,14],[37.42,12.7],[37.6,16.3],[37.73,20.4],[37.92,14.7],[38.13,13.4],[38.27,21.2],[38.41,19.8],[38.48,20],[38.58,14.5],[38.73,23],[38.8,22.1],[38.87,17.4]];
const so2Obs = [[0,1.5],[.17,2.7],[.32,.8],null,[.4,.7],[.62,.8],[.87,.9],[1.15,.9],[1.26,1.4],[1.37,4.2],[1.47,2.6],[1.66,2],[1.85,1.5],[1.98,1.9],[2.21,1.4],null,[2.31,1.2],[2.42,2.7],[2.53,3.8],[2.74,3.7],[2.93,5.4],[3.06,3.6],[3.2,1.6],[3.32,1.6],[3.38,4.1],[3.49,1.2],[3.75,.9],[3.93,.7],[4.11,1.4],[4.26,1.6],[4.39,3.9],[4.47,2.9],null,[4.59,4.4],[4.68,5.6],[4.83,4.5],[5.02,2.6],[5.19,1.9],[5.34,4.7],null,[5.41,6.5],[5.48,7.3],[5.63,7.2],[5.74,4],[5.99,3.2],[6.13,2.2],[6.23,1.9],[6.35,3.8],[6.45,8],null,[6.54,13],[6.61,20.7],[6.71,8.3],[6.85,5.1],[6.97,4.5],[7.1,3.4],[7.32,3.2],[7.36,6.6],[7.43,7.8],null,[7.59,8.6],[7.72,3.6],[7.89,1.6],[8.11,1.1],[8.3,1.5],[8.41,3.4],null,[8.61,1.9],[8.66,1.8],null,[8.79,1.6],[8.9,3.6],[9.02,3.2],[9.16,9.7],[9.24,10.9],[9.34,10.8],[9.45,9.7],null,[9.55,7],[9.67,6.1],[9.74,6],null,[9.84,5.6],[9.96,3.8],[10.13,2.9],[10.27,4.1],[10.36,5.5],null,[10.49,5.9],[10.53,6.5],[10.6,5.8],[10.71,3.4],[10.89,4.8],[11.04,4.7],[11.23,3.7],[11.36,2.6],null,[11.49,6.5],[11.62,9.9],[11.73,6.3],[11.9,3.3],[12.08,2.9],[12.19,1.9],[12.27,1.6],[12.45,8.8],null,[12.52,10.5],[12.63,7.6],[12.77,3.2],[12.99,2.2],[13.13,1.8],[13.3,1.4],[13.49,6.3],null,[13.61,5.4],[13.75,2.2],[13.92,1.9],[14.07,1.5],[14.36,.9],[14.6,.75],[14.79,1.1],[15.08,.9],[15.22,.9],[15.32,2.7],[15.41,6.9],[15.48,17.5],[15.54,7.2],null,[15.61,6.1],[15.73,4.1],[15.8,5.8],null,[15.87,4.5],[16.05,1.9],[16.23,1.5],[16.33,3.8],[16.42,7],null,[16.52,8.4],[16.74,5.5],[16.88,3.8],[17.03,2.2],[17.24,1.9],[17.33,2.8],null,[17.41,5.8],[17.56,9.4],[17.7,5.7],[17.84,5],[18.01,4.2],[18.19,3],[18.33,3],[18.47,6.6],null,[18.61,14.2],[18.76,8.6],[18.87,5],[18.98,4],[19.04,4.2],null,[19.13,3.7],[19.2,3.3],[19.41,6.8],[19.58,4.4],null,[19.66,3.1],[19.8,2.3],[19.94,2.5],[20.3,1.7],[20.33,2.9],null,[20.51,2.4],[20.8,2.6],[20.94,1.1],[21.13,.8],[21.3,2.1],[21.44,1.4],[21.72,2.2],[21.94,1.2],[22.22,2.1],[22.37,3.4],[22.44,2.3],[22.7,1.1],[22.91,3],[23.04,2.2],[23.19,1],[23.3,1.4],[23.41,7.3],null,[23.54,10.7],[23.61,21],[23.69,10.8],[23.79,6.1],[23.94,4.3],[24.08,3.7],null,[24.14,3.7],[24.26,2.9],[24.37,5.5],[24.46,2.1],[24.68,2.5],[24.72,1.4],null,[24.82,.7],[25.08,.6],[25.29,1.1],[25.44,.6],[25.69,.7],[25.89,4.4],[26.08,3.6],[26.19,2.4],[26.32,8],[26.46,11.8],null,[26.53,8.9],[26.65,5.8],[26.75,3.2],[26.98,1.5],[27.22,1.7],[27.32,2.5],[27.38,6.8],null,[27.5,11.8],[27.62,8.6],[27.72,3.3],null,[27.79,2.5],[28.08,1.1],[28.29,2.2],[28.43,6],[28.5,5],null,[28.57,3.6],[28.72,2.1],[29,1.5],[29.22,2.2],[29.4,5],[29.46,5.8],[29.57,5.5],null,[29.67,4.7],[29.79,3.2],[29.93,2],[30.14,2.8],[30.24,1.4],[30.43,1.8],[30.64,.7],[30.86,1],[31.07,1.7],[31.29,1],[31.5,.7],[31.86,1],[32.14,1.5],[32.36,6],[32.5,2.8],[32.64,1.9],[32.81,4.3],[32.95,2.8],[33.04,4.2],[33.14,3.6],[33.28,6.6],[33.36,9],[33.54,5.5],[33.64,4.8],[33.79,6.4],[33.97,7.3],[34.14,10.1],[34.28,6.9],[34.42,14.7],[34.54,18.7],null,[34.79,18.8],[34.86,15.9],[34.93,16.5],null,[35,14.5],[35.11,10.2],[35.28,5.7],[35.38,9.7],[35.45,7.6],null,[35.54,3.5],[35.71,1.9],[35.85,1.2],[36,2.5],[36.14,5.4],[36.21,8],[36.35,11.1],[36.49,3],[36.64,2.7],[36.78,6.9],[36.92,6.4],[37.07,7.2],[37.21,4.7],[37.45,17.4],[37.57,14.1],null,[37.92,14.2],[37.97,12.7],null,[38.03,12],[38.16,10.8],[38.27,15.2],[38.39,27.7],null,[38.53,31],[38.63,19],[38.74,10.1],null,[38.81,9.3],[38.89,9.8]];
const o3Model = [[0,21.7],[.1,23.7],[.22,22.2],[.33,14.2],[.48,27.8],[.59,31],[.69,27.8],[.79,13.4],[.94,12.3],[1.01,13.4],[1.13,17],[1.23,14.8],[1.31,10.9],[1.44,25],[1.62,29.7],[1.7,26],[1.77,8.7],[1.88,5],[2.09,4.3],[2.21,7.6],[2.28,5.4],[2.38,10.6],[2.48,12.8],[2.57,17.3],[2.64,15.9],[2.77,.7],[2.91,1.8],[3.06,4.8],[3.25,4.3],[3.39,12.8],[3.46,28.3],[3.61,35.5],[3.68,32.8],[3.78,15],[3.93,10],[4.08,15.3],[4.16,13.7],[4.21,10],[4.3,8.7],[4.36,14.5],[4.5,26],[4.59,29.6],[4.65,18.4],[4.72,4.5],[4.83,2.3],[4.98,4.3],[5.22,5.9],[5.34,11.5],[5.45,18.4],[5.58,24.7],[5.7,3.4],[5.84,2.9],[6.02,6.8],[6.06,12.6],[6.18,13.8],[6.28,10.6],[6.42,18.4],[6.49,24.5],[6.58,28.3],[6.67,12.8],[6.75,2.3],[6.93,1.2],[7.14,2.3],[7.29,4.5],[7.43,20.6],[7.58,57.4],[7.65,43],[7.72,12.8],[7.79,15.6],[7.94,20],[8.04,27.3],[8.11,19.5],[8.23,11.2],[8.3,11.2],[8.44,46.5],[8.59,30],[8.66,15.6],[8.76,6.2],[8.9,5.4],[9.06,9.5],[9.24,12.8],[9.45,17.8],[9.55,21],[9.64,18.4],[9.74,1.2],[9.96,0],[10.22,.1],[10.32,7.3],[10.53,22.3],[10.65,12.8],[10.75,2],[10.94,.9],[11.18,1.5],[11.33,7.3],[11.54,30.3],[11.66,12.8],[11.76,6.8],[11.98,7],[12.12,12.6],[12.27,8.1],[12.44,29.4],[12.58,44.4],[12.67,23.9],[12.81,12.8],[12.96,10],[13.1,19.8],[13.17,19.5],[13.27,10],[13.49,32.8],[13.61,28.3],[13.71,12.8],[13.88,6.5],[14.07,15.6],[14.21,19.5],[14.28,18.4],[14.36,30.5],[14.5,35.5],[14.65,29.4],[14.75,12.3],[14.91,14.5],[14.98,7.9],[15.15,5.9],[15.27,4.3],[15.51,16.7],[15.61,12.3],[15.73,.7],[15.87,.7],[16.16,.8],[16.31,6.2],[16.55,21.4],[16.67,6.2],[16.81,.5],[17.03,.4],[17.24,1.8],[17.43,7.3],[17.56,21.6],[17.73,4.2],[17.9,.3],[18.23,.3],[18.41,7],[18.54,11.7],[18.69,3.4],[18.87,4.2],[19.08,3.9],[19.27,3.1],[19.51,7],[19.66,6.4],[19.8,.6],[19.94,.6],[20.23,10.8],[20.37,21.9],[20.54,30.9],[20.65,20.8],[20.73,8.4],[20.84,7.8],[20.94,22.5],[21.05,24.6],[21.18,20.3],[21.3,14.2],[21.41,24.1],[21.55,30.2],[21.7,8.4],[21.84,6.1],[22.08,12],[22.22,7.5],[22.37,14.2],[22.54,21.1],[22.72,.9],[22.87,3.1],[23.03,5],[23.27,3.7],[23.54,14.8],[23.68,.1],[23.94,.9],[24.15,8.9],[24.29,9.7],[24.5,27],[24.62,12.5],[24.72,8.1],[24.86,9.7],[25.05,19.2],[25.18,17.8],[25.25,14.4],[25.51,31.3],[25.65,29.1],[25.79,3.4],[25.93,4.2],[26.12,6.7],[26.29,3.7],[26.5,10.6],[26.65,3.7],[26.75,.1],[27,.9],[27.22,1.2],[27.36,9.2],[27.5,14.6],[27.65,4.2],[27.79,.1],[28,3.1],[28.18,15],[28.29,12.5],[28.48,22.7],[28.62,5.3],[28.86,3.7],[29.07,14.7],[29.22,12],[29.43,17.5],[29.64,2],[29.79,.1],[29.97,.9],[30.22,13.3],[30.29,10.6],[30.6,29.4],[30.72,10],[30.86,12.5],[31,21.9],[31.1,27.5],[31.26,23.3],[31.47,34],[31.57,32.4],[31.71,15.8],[31.92,12],[32.11,19.2],[32.25,10.3],[32.53,27.2],[32.71,6.7],[32.93,10.8],[33.11,16.7],[33.28,11.7],[33.5,23],[33.64,3.1],[33.92,1.7],[34.21,5.9],[34.47,14.3],[34.68,.1],[35.17,.1],[35.36,8.1],[35.57,21.4],[35.78,5.6],[36,10.3],[36.18,16.4],[36.28,11.7],[36.52,28],[36.71,5.9],[36.92,4.8],[37.2,4.5],[37.45,14.2],[37.77,.1],[38.13,.4],[38.49,9.7],[38.66,.1],[38.9,0]];
const o3Obs = [[0,31],[.14,25],[.26,22.2],null,[.4,20.6],[.58,28.4],[.72,24],[.84,15],[1.01,20],[1.13,18.4],[1.2,19.5],[1.34,12],[1.44,24],[1.62,30.6],[1.73,21],[1.77,8.4],[1.9,5],[2.02,4],[2.16,2.3],[2.22,3.4],null,[2.31,1.8],[2.45,7.9],[2.64,38],[2.71,42],[2.81,15.6],[2.93,8.7],[3.17,6.2],[3.32,2.6],[3.46,30.6],[3.61,36],[3.72,35],[3.87,22.8],[3.97,10],[4.11,5],[4.3,3.2],[4.4,7.3],[4.46,25.3],null,[4.62,43],[4.68,46],[4.76,21],[4.88,8],[5.05,6.2],[5.22,4.5],[5.31,2.9],[5.34,4.3],null,[5.41,12.3],[5.53,31.7],null,[5.63,39.4],[5.68,38.6],[5.74,4.5],[5.95,4.3],[6.13,4],[6.28,2.9],[6.35,10],[6.45,32],null,[6.71,60],[6.78,15.6],[6.85,13],[7,10],[7.14,6.2],[7.29,3.4],[7.4,2],[7.42,4],null,[7.58,42],[7.62,44],[7.72,12.8],[7.79,11.2],[7.84,14.8],[8.01,5.6],[8.11,2],[8.3,4],[8.4,18.4],null,[8.63,36.3],null,[8.79,15.6],[8.95,10.6],[9.12,11.5],[9.24,6.8],[9.34,4.3],[9.45,11.7],null,[9.55,20],[9.64,19.5],[9.74,2.9],null,[9.84,2],[10.24,.9],[10.39,2.6],null,[10.48,4.5],[10.58,6.5],[10.68,5.6],[10.75,1.2],[11.26,1.1],[11.37,4.3],null,[11.49,16.2],[11.57,19.5],[11.69,4.5],[11.9,4.5],[12.15,1.5],[12.27,1.8],[12.45,24.5],null,[12.52,44.4],[12.58,50],[12.67,40.5],[12.74,9.5],[12.92,6.2],[13.06,4.5],[13.3,2.6],[13.42,24],[13.54,51.9],[13.59,51.9],[13.68,24],[13.82,4.5],[13.94,2.9],[14.07,8.4],[14.18,24],[14.29,23.6],[14.46,33.3],[14.6,32.8],[14.72,12.8],[14.83,13.4],[14.98,17.5],[15.08,11.2],null,[15.18,8.1],[15.27,5],[15.51,21.1],null,[15.61,27.5],[15.68,26],[15.76,3.4],null,[15.87,2.5],[16.23,1.1],[16.38,7.3],[16.45,10.3],null,[16.55,26],[16.74,2],[17.1,1.5],[17.32,1.8],null,[17.41,6.7],[17.56,27.5],[17.66,20.8],[17.8,4.8],[18.04,.9],[18.23,2],[18.44,6],[18.5,6.6],null,[18.61,17.6],[18.73,2],[18.94,4.5],[19.13,5.6],[19.37,2.3],[19.57,11],null,[19.66,6.5],[19.8,.6],[20.08,2.8],[20.27,2],[20.33,5],null,[20.48,25.8],[20.54,27.5],null,[20.61,25.8],[20.8,9.2],[20.9,20.3],[21.08,31],[21.28,15.8],[21.4,25.8],[21.58,31.6],[21.72,17],[21.91,3.4],[22.12,5.3],[22.3,2.5],[22.41,14.2],[22.54,37.4],[22.62,38.8],[22.75,13],[22.87,8.1],[22.94,10.3],[23.05,6.4],[23.3,3.9],[23.41,9.5],null,[23.54,20.3],[23.61,30.7],[23.7,5.6],[23.87,5.6],[23.98,3.7],[24.12,3.9],[24.22,2.3],[24.34,4.2],[24.51,32.4],[24.58,34.4],[24.65,31.9],[24.72,20.9],null,[24.82,27.5],[24.95,33.8],[25.05,31.9],[25.11,33],[25.29,20.9],[25.41,26.9],null,[25.48,31],[25.58,30.8],[25.69,7],[25.86,8.4],[26,7],[26.15,3.4],[26.29,1.7],[26.41,7],[26.53,13.3],null,[26.6,17.2],[26.72,9.2],[26.86,7.5],[27,2],[27.15,1.7],[27.32,2.5],[27.38,5.6],null,[27.5,23.1],[27.62,37.5],[27.7,23.4],null,[27.79,13.6],[27.93,6.1],[28.05,5.3],[28.26,6.1],[28.36,18],[28.5,27.2],null,[28.57,39.2],[28.64,37],[28.72,7.8],[28.93,7],[29.14,4.2],[29.29,5.3],[29.37,9.7],[29.49,25],[29.57,20.8],null,[29.67,17.5],[29.75,3.4],[30.07,3.1],[30.22,23],[30.32,18.6],[30.46,26.6],[30.6,28],[30.74,15.6],[30.89,30.8],[31.03,29.1],[31.14,32.2],[31.28,30.2],[31.47,34],[31.57,34.9],[31.78,30.8],[31.85,29.1],[31.97,10.3],[32.07,10.3],[32.25,3.4],[32.43,12.5],[32.5,23.6],null,[32.57,31.8],[32.64,31],[32.71,7],[32.86,4.2],[33.03,3.1],[33.21,4.2],[33.28,2.5],[33.43,12.5],[33.54,26.3],[33.64,3.1],[33.92,2.5],[34.21,1.7],[34.36,4.2],[34.53,4.5],null,[34.79,2.3],[35.21,1.9],[35.36,7.5],[35.46,21.6],null,[35.54,28],[35.64,27],[35.85,20.8],[35.95,23],[36.07,16.4],[36.28,5.9],[36.35,14.7],[36.57,32.4],[36.71,7],[36.92,4.2],[37.28,2],[37.5,12],[37.57,12.2],null,[37.92,2.3],null,[38.05,1.4],[38.2,2.3],[38.41,2.3],[38.55,4.5],[38.69,1],null,[38.85,1.9],[38.9,2]];

const svgNS = 'http://www.w3.org/2000/svg';
const root = document.getElementById('chart');
const plotLeft = 234.4;
const plotRight = 2040.5;
const plotHeight = 361.3;
const firstPanelTop = 34.7;
const panelStep = 530.92;

function xScale(day){ return plotLeft + day * (plotRight - plotLeft) / totalDays; }
function panelTop(i){ return firstPanelTop + i * panelStep; }
function yScale(i, value, maxValue){ return panelTop(i) + plotHeight - value / maxValue * plotHeight; }

function make(tag, attrs, parent){
  const el = document.createElementNS(svgNS, tag);
  for (const k in attrs) el.setAttribute(k, attrs[k]);
  (parent || root).appendChild(el);
  return el;
}

function seriesPath(i, series, maxValue){
  let d = '';
  let pen = false;
  for (const p of series){
    if (p === null){ pen = false; continue; }
    d += (pen ? 'L' : 'M') + xScale(p[0]).toFixed(1) + ' ' + yScale(i, p[1], maxValue).toFixed(1);
    pen = true;
  }
  return d;
}

function drawLine(parent, i, series, maxValue, color, name){
  const line = make('path', {d: seriesPath(i, series, maxValue), fill:'none', stroke: color, 'stroke-width':'3', 'stroke-linejoin':'round', 'stroke-linecap':'round', 'clip-path':'url(#clip-'+i+')'}, parent);
  
  
  return line;
}

function drawTitle(g, cfg, cy){
  const t = make('text', {transform:'translate('+cfg.titleX+','+cy+') rotate(-90) scale(1,1.17)', 'text-anchor':'middle', 'font-size':'48'}, g);
  t.textContent = cfg.title;
  
  
}

function drawUnit(g, x, cy){
  const t = make('text', {transform:'translate('+x+','+cy+') rotate(-90) scale(1,1.17)', 'text-anchor':'middle', 'font-size':'37'}, g);
  
  
  const a = make('tspan', {}, t); a.textContent = '(ug\u00a0m\u00a0';
  const b = make('tspan', {dy:'-13', 'font-size':'24'}, t); b.textContent = '-3';
  const c = make('tspan', {dy:'13'}, t); c.textContent = '\u00a0)';
}

const panels = [
  {name:'pm25', title:'PM2.5', obs:pm25Obs, model:pm25Model, max:500, major:100, minor:20, titleX:79, titleY:307, unitX:70, unitY:145},
  {name:'pm10', title:'PM10', obs:pm10Obs, model:pm10Model, max:500, major:100, minor:20, titleX:79, titleY:839, unitX:72, unitY:669},
  {name:'co', title:'CO  (ppbv)', obs:coObs, model:coModel, max:3500, major:500, minor:100, titleX:60, titleY:1277},
  {name:'no2', title:'NO2  (ppbv)', obs:no2Obs, model:no2Model, max:100, major:20, minor:5, titleX:80, titleY:1808},
  {name:'so2', title:'SO2  (ppbv)', obs:so2Obs, model:so2Model, max:30, major:5, minor:1, titleX:97, titleY:2338},
  {name:'o3', title:'O3  (ppbv)', obs:o3Obs, model:o3Model, max:60, major:10, minor:2, titleX:97, titleY:2869}
];

panels.forEach(function(cfg, i){
  const top = panelTop(i);
  const bottom = top + plotHeight;
  const g = make('g', {});
  
  

  const defs = make('defs', {}, g);
  const clip = make('clipPath', {id:'clip-'+i}, defs);
  make('rect', {x:plotLeft, y:top, width:plotRight-plotLeft, height:plotHeight}, clip);

  drawLine(g, i, cfg.model, cfg.max, '#f00000', cfg.name + '-model-line');
  drawLine(g, i, cfg.obs, cfg.max, '#000', cfg.name + '-obs-line');

  // APEC control period shading, multiplied over the lines
  const shade = make('rect', {x:xScale(apecStartDay), y:top, width:xScale(apecEndDay)-xScale(apecStartDay), height:plotHeight, fill:'#cdcdcd', style:'mix-blend-mode:multiply'}, g);
  
  

  // y ticks
  for (let v = 0; v <= cfg.max + 1e-6; v += cfg.minor){
    const y = yScale(i, v, cfg.max);
    const isMajor = Math.abs(v / cfg.major - Math.round(v / cfg.major)) < 1e-6;
    const tick = make('line', {x1: isMajor ? 196 : 214, x2: plotLeft, y1:y, y2:y, stroke:'#000', 'stroke-width': isMajor ? 5 : 2.8, 'stroke-linecap': isMajor ? 'round' : 'butt'}, g);
    
    
    if (isMajor){
      const lab = make('text', {x:173, y:y + 11.5, 'text-anchor':'end', 'font-size':'32', textLength:String(v).length * 17.8, lengthAdjust:'spacingAndGlyphs'}, g);
      lab.textContent = String(v);
      
      
    }
  }

  // x ticks: every day, major + label every second day
  for (let day = 0; day <= 38; day++){
    const x = xScale(day);
    const isMajor = day % 2 === 0;
    const tick = make('line', {x1:x, x2:x, y1:bottom, y2: bottom + (isMajor ? 38 : 19), stroke:'#000', 'stroke-width': isMajor ? 4.6 : 2, 'stroke-linecap': isMajor ? 'round' : 'butt'}, g);
    
    
    if (isMajor){
      const lab = make('text', {x:x, y:bottom + 72.5, 'text-anchor':'middle', 'font-size':'32'}, g);
      lab.textContent = dateLabels[day / 2];
      
      
    }
  }

  // frame
  const frame = make('path', {d:'M196 '+top+'H'+plotRight+'V'+bottom+'H196', fill:'none', stroke:'#000', 'stroke-width':'5', 'stroke-linejoin':'miter'}, g);
  
  
  const leftAxis = make('line', {x1:plotLeft, x2:plotLeft, y1:top, y2:bottom, stroke:'#000', 'stroke-width':'4.5'}, g);
  
  

  drawTitle(g, cfg, cfg.titleY);
  if (cfg.unitX) drawUnit(g, cfg.unitX, cfg.unitY);
});

// Annotations in the first panel
const apecLabel = make('text', {x:1268, y:171, 'font-size':'59'});
apecLabel.textContent = 'APEC controls';



const legendObsLine = make('line', {x1:1678, x2:1835, y1:87, y2:87, stroke:'#000', 'stroke-width':'3'});


const legendObsText = make('text', {x:1849, y:103, 'font-size':'46'});
legendObsText.textContent = 'Obs.';


const legendModelLine = make('line', {x1:1678, x2:1835, y1:147.5, y2:147.5, stroke:'#f00000', 'stroke-width':'3'});


const legendModelText = make('text', {x:1850, y:155, 'font-size':'46'});
legendModelText.textContent = 'Model';


</script>
</body>
</html>
